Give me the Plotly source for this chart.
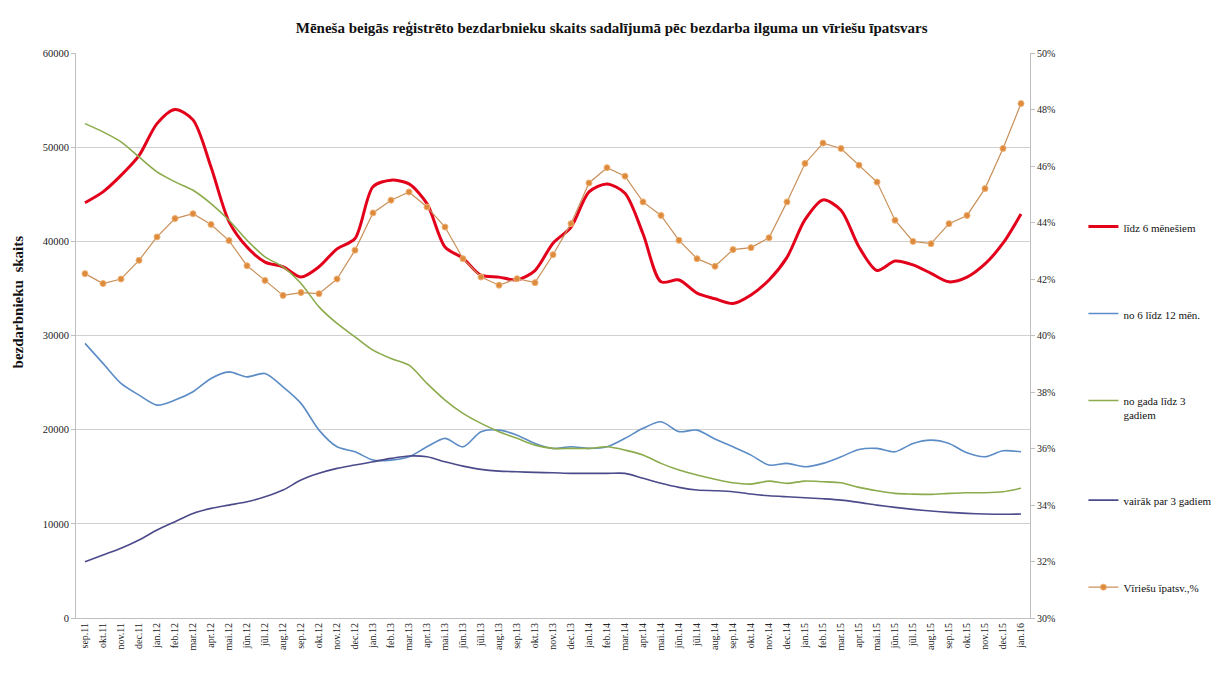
import plotly.graph_objects as go

months = [
    "sep.11", "okt.11", "nov.11", "dec.11",
    "jan.12", "feb.12", "mar.12", "apr.12", "mai.12", "jūn.12", "jūl.12", "aug.12", "sep.12", "okt.12", "nov.12", "dec.12",
    "jan.13", "feb.13", "mar.13", "apr.13", "mai.13", "jūn.13", "jūl.13", "aug.13", "sep.13", "okt.13", "nov.13", "dec.13",
    "jan.14", "feb.14", "mar.14", "apr.14", "mai.14", "jūn.14", "jūl.14", "aug.14", "sep.14", "okt.14", "nov.14", "dec.14",
    "jan.15", "feb.15", "mar.15", "apr.15", "mai.15", "jūn.15", "jūl.15", "aug.15", "sep.15", "okt.15", "nov.15", "dec.15",
    "jan.16",
]

lidz_6_men = [
    44100, 45250, 47000, 49100, 52500, 54000, 52900, 47900, 42100, 39400, 37800, 37300, 36200, 37300, 39200, 40300,
    45800, 46500, 46100, 44000, 39400, 38200, 36400, 36200, 35900, 36900, 39800, 41500,
    45250, 46100, 45100, 40800, 35700, 35900, 34500, 33900, 33400, 34300, 35900, 38300,
    42300, 44400, 43300, 39400, 36900, 37900, 37500, 36600, 35700, 36200, 37600, 39800,
    42900,
]

no_6_lidz_12 = [
    29160, 27040, 24910, 23670, 22610, 23140, 24020, 25440, 26140, 25610, 25970, 24550, 22790, 19950, 18180, 17650,
    16770, 16770, 17120, 18180, 19080, 18180, 19790, 19950, 19420, 18540, 18010, 18180,
    18010, 18180, 19080, 20140, 20840, 19790, 19950, 19000, 18180, 17300, 16240, 16420,
    16060, 16420, 17120, 17900, 18010, 17650, 18540, 18890, 18540, 17540, 17120, 17760,
    17650,
]

no_gada_lidz_3 = [
    52500, 51620, 50560, 48960, 47370, 46310, 45430, 44010, 42240, 40120, 38350, 37290, 35520, 33040, 31280, 29860,
    28450, 27560, 26850, 24910, 23140, 21730, 20670, 19790, 19080, 18360, 18010, 18010,
    18010, 18180, 17830, 17300, 16420, 15710, 15180, 14740, 14360, 14220, 14540, 14300,
    14540, 14470, 14360, 13870, 13510, 13230, 13160, 13130, 13230, 13300, 13300, 13410,
    13770,
]

vairak_par_3 = [
    5980, 6690, 7400, 8280, 9340, 10230, 11110, 11640, 11990, 12340, 12870, 13590, 14650, 15360, 15890, 16240,
    16590, 16950, 17200, 17120, 16590, 16130, 15780, 15600, 15530, 15460, 15420, 15360,
    15360, 15360, 15360, 14830, 14300, 13870, 13590, 13520, 13410, 13160, 12980, 12870,
    12770, 12660, 12520, 12280, 11990, 11750, 11540, 11360, 11220, 11110, 11040, 11010,
    11040,
]

viriesu_ipatsv = [
    42.19, 41.84, 42.00, 42.66, 43.49, 44.14, 44.31, 43.93, 43.36, 42.47, 41.95, 41.42, 41.52, 41.48, 42.00, 43.02,
    44.34, 44.79, 45.08, 44.55, 43.84, 42.72, 42.07, 41.78, 42.01, 41.87, 42.86, 43.96,
    45.40, 45.94, 45.64, 44.73, 44.25, 43.37, 42.72, 42.45, 43.04, 43.11, 43.46, 44.73,
    46.09, 46.81, 46.62, 46.03, 45.43, 44.08, 43.33, 43.25, 43.96, 44.25, 45.20, 46.62,
    48.21,
]

series_names = [
    "līdz 6 mēnešiem",
    "no 6 līdz 12 mēn.",
    "no gada līdz 3<br>gadiem",
    "vairāk par 3 gadiem",
    "Vīriešu īpatsv.,%",
]

title_text = "Mēneša beigās reģistrēto bezdarbnieku skaits sadalījumā pēc bezdarba ilguma un vīriešu īpatsvars"
y_title = "bezdarbnieku  skaits"

FONT = "Liberation Serif"
x = list(range(len(months)))

fig = go.Figure()
fig.add_trace(go.Scatter(x=x, y=lidz_6_men, name=series_names[0], mode="lines",
                         line=dict(color="#e3001b", width=3, shape="spline", smoothing=0.8),
                         legendgroup="a"))
fig.add_trace(go.Scatter(x=x, y=no_6_lidz_12, name=series_names[1], mode="lines",
                         line=dict(color="#5b8cc6", width=1.6, shape="spline", smoothing=0.8),
                         legendgroup="b"))
fig.add_trace(go.Scatter(x=x, y=no_gada_lidz_3, name=series_names[2], mode="lines",
                         line=dict(color="#8bab4c", width=1.6, shape="spline", smoothing=0.8),
                         legendgroup="c"))
fig.add_trace(go.Scatter(x=x, y=vairak_par_3, name=series_names[3], mode="lines",
                         line=dict(color="#4b4a8a", width=1.6, shape="spline", smoothing=0.8),
                         legendgroup="d"))
fig.add_trace(go.Scatter(x=x, y=viriesu_ipatsv, name=series_names[4], mode="lines+markers",
                         line=dict(color="#c9905a", width=1.2),
                         marker=dict(color="#dc8a3e", size=6, symbol="circle",
                                     line=dict(color="#f0b070", width=1)),
                         yaxis="y2", legendgroup="e"))

fig.update_layout(
    width=1227, height=691,
    margin=dict(l=68, r=205, t=45, b=81, autoexpand=False),
    paper_bgcolor="white", plot_bgcolor="white",
    font=dict(family=FONT, color="#222", size=10),
    title=dict(text="<b>" + title_text + "</b>", x=0.492, xanchor="center", y=0.971, yanchor="middle",
               font=dict(family=FONT, size=15, color="#111")),
    xaxis=dict(
        tickmode="array", tickvals=x, ticktext=months, tickangle=-90,
        range=[-0.5, len(months) - 0.5], showgrid=False, zeroline=False,
        showline=True, linecolor="#bfbfbf", linewidth=1,
        ticks="", tickfont=dict(family=FONT, size=10, color="#222"),
    ),
    yaxis=dict(
        range=[0, 60000], dtick=10000, tickformat="d",
        showgrid=True, gridcolor="#d0d0d0", gridwidth=1, zeroline=False,
        showline=True, linecolor="#bfbfbf", linewidth=1,
        ticks="outside", ticklen=4, tickcolor="#bfbfbf",
        tickfont=dict(family=FONT, size=10.5, color="#222"),
    ),
    yaxis2=dict(
        overlaying="y", side="right", range=[30, 50], dtick=2, ticksuffix="%",
        showgrid=False, zeroline=False,
        showline=True, linecolor="#bfbfbf", linewidth=1,
        ticks="outside", ticklen=4, tickcolor="#bfbfbf",
        tickfont=dict(family=FONT, size=10, color="#222"),
    ),
    legend=dict(
        x=1.056, xanchor="left", y=0.717, yanchor="top",
        font=dict(family=FONT, size=11, color="#111"),
        tracegroupgap=68, valign="top", bgcolor="rgba(0,0,0,0)",
        itemwidth=30,
    ),
    annotations=[dict(
        text="<b>" + y_title + "</b>", textangle=-90,
        xref="paper", yref="paper", x=-0.0605, y=0.559,
        xanchor="center", yanchor="middle", showarrow=False,
        font=dict(family=FONT, size=15, color="#111"),
    )],
    showlegend=True,
)

fig.write_html("out.html")
